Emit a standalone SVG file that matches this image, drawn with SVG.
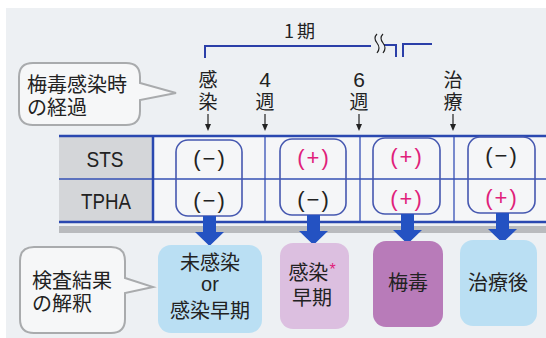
<svg xmlns="http://www.w3.org/2000/svg" width="546" height="338" viewBox="0 0 546 338">
<defs>
<style>
text{font-family:"Liberation Sans","Noto Sans CJK JP",sans-serif;fill:#222;}
.jp{font-family:"Noto Sans CJK JP","Liberation Sans",sans-serif;}
.lbl{font-size:19px;text-anchor:middle;}
.cl{font-size:20px;}
.res{font-size:22px;text-anchor:middle;letter-spacing:2px;}
.pos{fill:#e0207a;}
.callout{fill:#f6f7f8;stroke:#a9abad;stroke-width:2;}
.tline{stroke:#2a48b0;stroke-width:2.5;fill:none;}
.tthin{stroke:#3550b5;stroke-width:1.3;fill:none;}
.rbox{fill:none;stroke:#4658b0;stroke-width:1.6;}
.bracket{stroke:#2b3fa8;stroke-width:2;fill:none;}
.sarrow{stroke:#222;stroke-width:1.2;}
.big{fill:#2452c2;}
.node-t{font-size:20px;text-anchor:middle;}
</style>
</defs>
<rect width="546" height="338" fill="#ffffff"/>
<rect x="6" y="8" width="540" height="330" fill="#edf0f3"/>

<g id="period">
<path class="bracket" d="M205,58 V46 H371"/>
<path class="bracket" d="M384,45 H396 V57 M403,57 V44 H432"/>
<path d="M377,34 q-4,4 0,9 q4,5 0,10 M383,34 q-4,4 0,9 q4,5 0,10" stroke="#222" stroke-width="1.2" fill="none"/>
<text class="jp" x="301" y="38" font-size="18" text-anchor="middle" letter-spacing="3">1期</text>
</g>

<g id="callout-course">
<path class="callout" d="M33,63 H126 Q140,63 140,77 V83 L176,93 L140,100 V111 Q140,125 126,125 H33 Q19,125 19,111 V77 Q19,63 33,63 Z"/>
<text class="jp cl" x="27" y="92">梅毒感染時<tspan x="27" dy="23">の経過</tspan></text>
</g>

<g id="time-labels">
<text class="jp lbl" x="208" y="87">感<tspan x="208" dy="22">染</tspan></text>
<text class="lbl" x="265" y="87"><tspan font-size="21">4</tspan><tspan class="jp" x="265" dy="22">週</tspan></text>
<text class="lbl" x="359" y="87"><tspan font-size="21">6</tspan><tspan class="jp" x="359" dy="22">週</tspan></text>
<text class="jp lbl" x="453" y="87">治<tspan x="453" dy="22">療</tspan></text>
</g>

<g id="table">
<rect x="59" y="226" width="487" height="7" fill="#b9bbbe"/>
<rect x="59" y="136" width="94" height="86" fill="#d4d6d9"/>
<rect x="153" y="136" width="393" height="86" fill="#f5f6f8"/>
<line class="tthin" x1="59" y1="179" x2="546" y2="179"/>
<line class="tthin" x1="265" y1="136" x2="265" y2="222"/>
<line class="tthin" x1="360" y1="136" x2="360" y2="222"/>
<line class="tthin" x1="454" y1="136" x2="454" y2="222"/>
<line class="tline" x1="153" y1="136" x2="153" y2="222"/>
<line class="tline" x1="59" y1="136" x2="546" y2="136"/>
<line class="tline" x1="59" y1="222" x2="546" y2="222"/>
<text x="105" y="167" font-size="22" text-anchor="middle" textLength="37" lengthAdjust="spacingAndGlyphs">STS</text>
<text x="106" y="209" font-size="22" text-anchor="middle" textLength="50" lengthAdjust="spacingAndGlyphs">TPHA</text>
</g>

<g id="col-infection">
<rect class="rbox" x="176" y="140" width="66" height="76" rx="12"/>
<text class="res" x="210" y="166">(−)</text>
<text class="res" x="210" y="208">(−)</text>
</g>
<g id="col-4w">
<rect class="rbox" x="280" y="139" width="66" height="76" rx="12"/>
<text class="res pos" x="314" y="165">(+)</text>
<text class="res" x="314" y="207">(−)</text>
</g>
<g id="col-6w">
<rect class="rbox" x="373" y="138" width="67" height="76" rx="12"/>
<text class="res pos" x="407" y="164">(+)</text>
<text class="res pos" x="407" y="206">(+)</text>
</g>
<g id="col-treat">
<rect class="rbox" x="468" y="137" width="67" height="76" rx="12"/>
<text class="res" x="502" y="163">(−)</text>
<text class="res pos" x="502" y="205">(+)</text>
</g>

<g id="connectors">
<g class="sarrow">
<line x1="208" y1="114" x2="208" y2="126"/>
<line x1="265" y1="114" x2="265" y2="126"/>
<line x1="359" y1="114" x2="359" y2="126"/>
<line x1="453" y1="114" x2="453" y2="126"/>
</g>
<g fill="#222">
<polygon points="205,124 211,124 208,131"/>
<polygon points="262,124 268,124 265,131"/>
<polygon points="356,124 362,124 359,131"/>
<polygon points="450,124 456,124 453,131"/>
</g>
<g class="big">
<polygon points="203,216 216,216 216,232 224,232 209.5,246 195,232 203,232"/>
<polygon points="307,215 320,215 320,231 328,231 313.5,245 299,231 307,231"/>
<polygon points="401,214 414,214 414,230 422,230 407.5,244 393,230 401,230"/>
<polygon points="496,213 509,213 509,229 517,229 502.5,243 488,229 496,229"/>
</g>
</g>

<g id="callout-interp">
<path class="callout" d="M34,247 H111 Q125,247 125,261 V278 L153,287 L125,293 V319 Q125,333 111,333 H34 Q20,333 20,319 V261 Q20,247 34,247 Z"/>
<text class="jp cl" x="32" y="288">検査結果<tspan x="32" dy="23">の解釈</tspan></text>
</g>

<g id="node-uninfected">
<rect x="158" y="245" width="104" height="88" rx="13" fill="#badff3"/>
<text class="jp node-t" x="210" y="270">未感染<tspan class="node-t" x="210" dy="21" font-family="Liberation Sans, sans-serif">or</tspan><tspan x="210" dy="27">感染早期</tspan></text>
</g>
<g id="node-early">
<rect x="280" y="243" width="69" height="86" rx="13" fill="#dcbfe0"/>
<text class="jp node-t" x="312" y="280">感染<tspan class="pos" dx="1" dy="-5" font-size="16" font-family="Liberation Sans, sans-serif">*</tspan><tspan x="312" dy="30">早期</tspan></text>
</g>
<g id="node-syphilis">
<rect x="373" y="241" width="70" height="86" rx="13" fill="#b87bb9"/>
<text class="jp node-t" x="408" y="290">梅毒</text>
</g>
<g id="node-treated">
<rect x="460" y="240" width="77" height="86" rx="13" fill="#badff3"/>
<text class="jp node-t" x="498" y="290">治療後</text>
</g>
</svg>
